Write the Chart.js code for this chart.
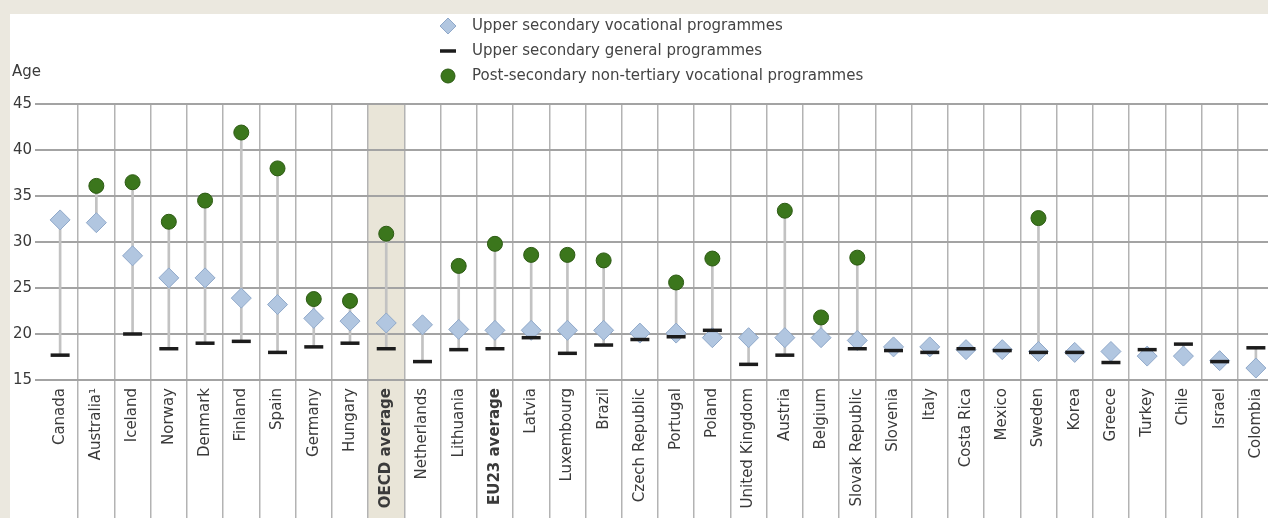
<!DOCTYPE html>
<html>
<head>
<meta charset="utf-8">
<script src="https://cdn.jsdelivr.net/npm/chart.js@4"></script>
<style>
  html, body { margin: 0; padding: 0; background: #ebe8df; overflow: hidden; width: 1268px; height: 518px; }
  #wrap { position: absolute; left: 10px; top: 14px; width: 1290px; height: 504px; background: #fff; }
</style>
</head>
<body>
<div id="wrap"><canvas id="chart" width="1290" height="504"></canvas></div>
<script>
// --- Datos ---
const paises = ['Canada', 'Australia¹', 'Iceland', 'Norway', 'Denmark', 'Finland', 'Spain', 'Germany', 'Hungary',
  'OECD average', 'Netherlands', 'Lithuania', 'EU23 average', 'Latvia', 'Luxembourg', 'Brazil', 'Czech Republic',
  'Portugal', 'Poland', 'United Kingdom', 'Austria', 'Belgium', 'Slovak Republic', 'Slovenia', 'Italy', 'Costa Rica',
  'Mexico', 'Sweden', 'Korea', 'Greece', 'Turkey', 'Chile', 'Israel', 'Colombia'];

const vocacional = [32.4, 32.1, 28.5, 26.1, 26.1, 23.9, 23.2, 21.7, 21.4, 21.2, 21.0, 20.5, 20.4, 20.4, 20.4, 20.4, 20.1,
  20.1, 19.6, 19.6, 19.6, 19.6, 19.3, 18.6, 18.6, 18.3, 18.3, 18.1, 18.0, 18.1, 17.6, 17.6, 17.1, 16.3];

const general = [17.7, null, 20.0, 18.4, 19.0, 19.2, 18.0, 18.6, 19.0, 18.4, 17.0, 18.3, 18.4, 19.6, 17.9, 18.8, 19.4,
  19.7, 20.4, 16.7, 17.7, null, 18.4, 18.2, 18.0, 18.4, 18.2, 18.0, 18.0, 16.9, 18.3, 18.9, 17.0, 18.5];

const postSecundaria = [null, 36.1, 36.5, 32.2, 34.5, 41.9, 38.0, 23.8, 23.6, 30.9, null, 27.4, 29.8, 28.6, 28.6, 28.0, null,
  25.6, 28.2, null, 33.4, 21.8, 28.3, null, null, null, null, 32.6, null, null, null, null, null, null];

const ticksY = [15, 20, 25, 30, 35, 40, 45];
const columnaSombreada = 'OECD average';

// rango min-max de cada país (línea gris vertical)
const rangos = paises.map((_, i) => {
  const v = [vocacional[i], general[i], postSecundaria[i]].filter(x => x !== null);
  return v.length > 1 ? [Math.min(...v), Math.max(...v)] : null;
});

const FONT = 'DejaVu Sans, Verdana, sans-serif';
const GRIS_TXT = '#3a3a3a';

// --- Plugins ---
const sombraColumna = {
  id: 'sombraColumna',
  beforeDraw(chart) {
    const xs = chart.scales.x, ctx = chart.ctx;
    const i = paises.indexOf(columnaSombreada);
    const half = (xs.getPixelForTick(1) - xs.getPixelForTick(0)) / 2;
    const cx = xs.getPixelForTick(i);
    ctx.save();
    ctx.fillStyle = '#e9e5d8';
    ctx.fillRect(cx - half, chart.chartArea.top, half * 2, chart.height - chart.chartArea.top);
    ctx.restore();
  }
};

const leyenda = {
  id: 'leyenda',
  afterDraw(chart) {
    const ctx = chart.ctx;
    const items = chart.data.datasets.filter(d => d.enLeyenda);
    const x0 = 438, y0 = 12, paso = 25;
    ctx.save();
    ctx.font = '15px ' + FONT;
    ctx.textBaseline = 'middle';
    items.forEach((d, k) => {
      const y = y0 + k * paso;
      ctx.fillStyle = d.pointBackgroundColor;
      ctx.strokeStyle = d.pointBorderColor;
      ctx.lineWidth = d.pointBorderWidth;
      ctx.beginPath();
      if (d.pointStyle === 'rectRot') {
        ctx.moveTo(x0, y - 8); ctx.lineTo(x0 + 8, y); ctx.lineTo(x0, y + 8); ctx.lineTo(x0 - 8, y); ctx.closePath();
        ctx.fill(); ctx.stroke();
      } else if (d.pointStyle === 'line') {
        ctx.moveTo(x0 - 8, y); ctx.lineTo(x0 + 8, y); ctx.stroke();
      } else {
        ctx.arc(x0, y, 7, 0, Math.PI * 2); ctx.fill(); ctx.stroke();
      }
      ctx.fillStyle = '#444';
      ctx.fillText(d.label, x0 + 24, y);
    });
    // título del eje
    ctx.font = '15px ' + FONT;
    ctx.fillStyle = GRIS_TXT;
    ctx.fillText('Age', 2, 58);
    ctx.restore();
  }
};

// --- Gráfico ---
new Chart(document.getElementById('chart'), {
  data: {
    labels: paises,
    datasets: [
      {
        type: 'bar', label: 'rango', data: rangos, grouped: false,
        barThickness: 2, backgroundColor: '#c2c2c2', order: 4
      },
      {
        type: 'line', label: 'Upper secondary vocational programmes', data: vocacional, showLine: false,
        pointStyle: 'rectRot', pointRadius: 10, pointBackgroundColor: '#b1c6e0', pointBorderColor: '#8fa8c9',
        pointBorderWidth: 1, order: 3, enLeyenda: true
      },
      {
        type: 'line', label: 'Upper secondary general programmes', data: general, showLine: false,
        pointStyle: 'line', pointRadius: 9.5, pointBackgroundColor: '#1c1c1c', pointBorderColor: '#1c1c1c',
        pointBorderWidth: 3.5, order: 2, enLeyenda: true
      },
      {
        type: 'line', label: 'Post-secondary non-tertiary vocational programmes', data: postSecundaria, showLine: false,
        pointStyle: 'circle', pointRadius: 7.5, pointBackgroundColor: '#3b761c', pointBorderColor: '#2c5a13',
        pointBorderWidth: 1, order: 1, enLeyenda: true
      }
    ]
  },
  options: {
    responsive: false,
    animation: false,
    layout: { padding: { top: 90, right: 26, left: 0, bottom: 0 } },
    plugins: { legend: { display: false }, tooltip: { enabled: false } },
    scales: {
      x: {
        type: 'category', offset: true,
        grid: {
          offset: true, lineWidth: 1.5, tickLength: 138,
          color: c => c.index === 0 ? 'rgba(0,0,0,0)' : '#b3b3b3'
        },
        border: { display: false },
        ticks: {
          autoSkip: false, minRotation: 90, maxRotation: 90, padding: -130, color: GRIS_TXT,
          font: c => ({ family: FONT, size: 15, weight: /average/.test(paises[c.index]) ? 'bold' : 'normal' })
        },
        afterFit: s => { s.height = 138; }
      },
      y: {
        min: ticksY[0], max: ticksY[ticksY.length - 1],
        afterBuildTicks: s => { s.ticks = ticksY.map(v => ({ value: v })); },
        grid: { color: '#a3a3a3', lineWidth: 2, tickLength: 7 },
        border: { display: false },
        ticks: { padding: 3, color: GRIS_TXT, font: { family: FONT, size: 15 } },
        afterFit: s => { s.width = 32; }
      }
    }
  },
  plugins: [sombraColumna, leyenda]
});
</script>
</body>
</html>
